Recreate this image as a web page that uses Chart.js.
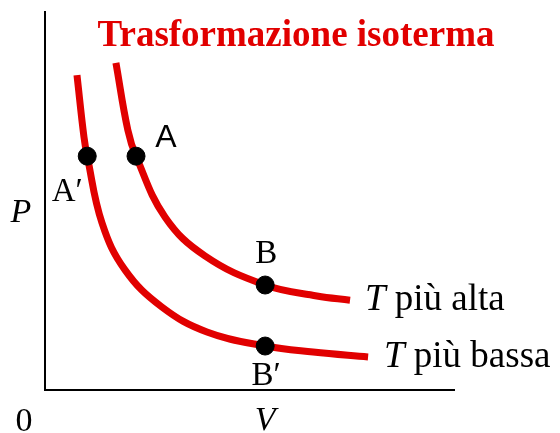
<!DOCTYPE html>
<html>
<head>
<meta charset="utf-8">
<script src="https://cdn.jsdelivr.net/npm/chart.js@4.4.0/dist/chart.umd.min.js"></script>
<style>
  html, body { margin: 0; padding: 0; background: #fff; }
  #wrap { width: 560px; height: 433px; }
</style>
</head>
<body>
<div id="wrap"><canvas id="isoChart" width="560" height="433"></canvas></div>
<script>
// curves (V, P in arbitrary units)
const highV = [1.73, 2.02, 2.22, 2.93, 3.90, 5.37, 6.63, 7.44];
const highP = [8.63, 6.86, 6.17, 4.56, 3.54, 2.77, 2.48, 2.37];
const lowV = [0.78, 0.95, 1.03, 1.39, 1.95, 2.85, 3.95, 5.37, 6.54, 7.88];
const lowP = [8.31, 6.68, 6.17, 4.41, 3.17, 2.19, 1.53, 1.16, 1.00, 0.87];

// marked states
const stateNames = ['A', 'B', 'A′', 'B′'];
const stateV = [2.22, 5.37, 1.03, 5.37];
const stateP = [6.17, 2.77, 6.17, 1.16];

const curveNames = ['più alta', 'più bassa'];

const red = 'rgb(225, 0, 0)';
const serif = '"Liberation Serif", "DejaVu Serif", serif';

function toPoints(xs, ys) {
    return xs.map((x, i) => ({ x: x, y: ys[i] }));
}

// axes and all the lettering
const isoDecor = {
    id: 'isoDecor',
    afterDraw(chart) {
        const ctx = chart.ctx;
        const a = chart.chartArea;
        const sx = chart.scales.x, sy = chart.scales.y;
        ctx.save();

        // axes
        ctx.strokeStyle = '#000';
        ctx.lineWidth = 2;
        ctx.beginPath();
        ctx.moveTo(a.left, a.top);
        ctx.lineTo(a.left, a.bottom);
        ctx.lineTo(a.right, a.bottom);
        ctx.stroke();

        // title
        ctx.fillStyle = red;
        ctx.font = 'bold 37px ' + serif;
        ctx.textAlign = 'center';
        ctx.textBaseline = 'alphabetic';
        ctx.fillText('Trasformazione isoterma', 296, 46);

        ctx.fillStyle = '#000';

        // state labels
        const px = i => sx.getPixelForValue(stateV[i]);
        const py = i => sy.getPixelForValue(stateP[i]);
        ctx.font = '32px "Liberation Sans", Arial, sans-serif';
        ctx.fillText(stateNames[0], px(0) + 30, py(0) - 9);
        ctx.font = '33px ' + serif;
        ctx.fillText(stateNames[1], px(1) + 1, py(1) - 22);
        ctx.fillText(stateNames[2], px(2) - 20, py(2) + 45);
        ctx.fillText(stateNames[3], px(3) + 1, py(3) + 39);

        // axis labels
        ctx.font = 'italic 34px ' + serif;
        ctx.fillText('P', 21, 222);
        ctx.fillText('V', sx.getPixelForValue(stateV[1]), 430);
        ctx.font = '34px ' + serif;
        ctx.fillText('0', 24, 431);

        // curve labels
        ctx.textAlign = 'left';
        const tags = [[365, 310], [384, 367]];
        tags.forEach((t, i) => {
            ctx.font = 'italic 37px ' + serif;
            ctx.fillText('T', t[0], t[1]);
            const w = ctx.measureText('T ').width;
            ctx.font = '37px ' + serif;
            ctx.fillText(curveNames[i], t[0] + w, t[1]);
        });
        ctx.restore();
    }
};

const ctx = document.getElementById('isoChart').getContext('2d');
const isoChart = new Chart(ctx, {
    type: 'scatter',
    data: {
        datasets: [
            {
                label: 'stati',
                data: toPoints(stateV, stateP),
                backgroundColor: '#000',
                borderColor: '#000',
                pointRadius: 9,
                showLine: false
            },
            {
                label: 'T più alta',
                data: toPoints(highV, highP),
                borderColor: red,
                borderWidth: 7,
                pointRadius: 0,
                showLine: true,
                tension: 0.4,
                clip: false
            },
            {
                label: 'T più bassa',
                data: toPoints(lowV, lowP),
                borderColor: red,
                borderWidth: 7,
                pointRadius: 0,
                showLine: true,
                tension: 0.4,
                clip: false
            }
        ]
    },
    options: {
        responsive: false,
        animation: false,
        layout: { padding: { left: 45, right: 105, top: 11, bottom: 43 } },
        scales: {
            x: { type: 'linear', min: 0, max: 10, display: false },
            y: { type: 'linear', min: 0, max: 10, display: false }
        },
        plugins: {
            legend: { display: false },
            tooltip: { enabled: false }
        }
    },
    plugins: [isoDecor]
});
</script>
</body>
</html>
